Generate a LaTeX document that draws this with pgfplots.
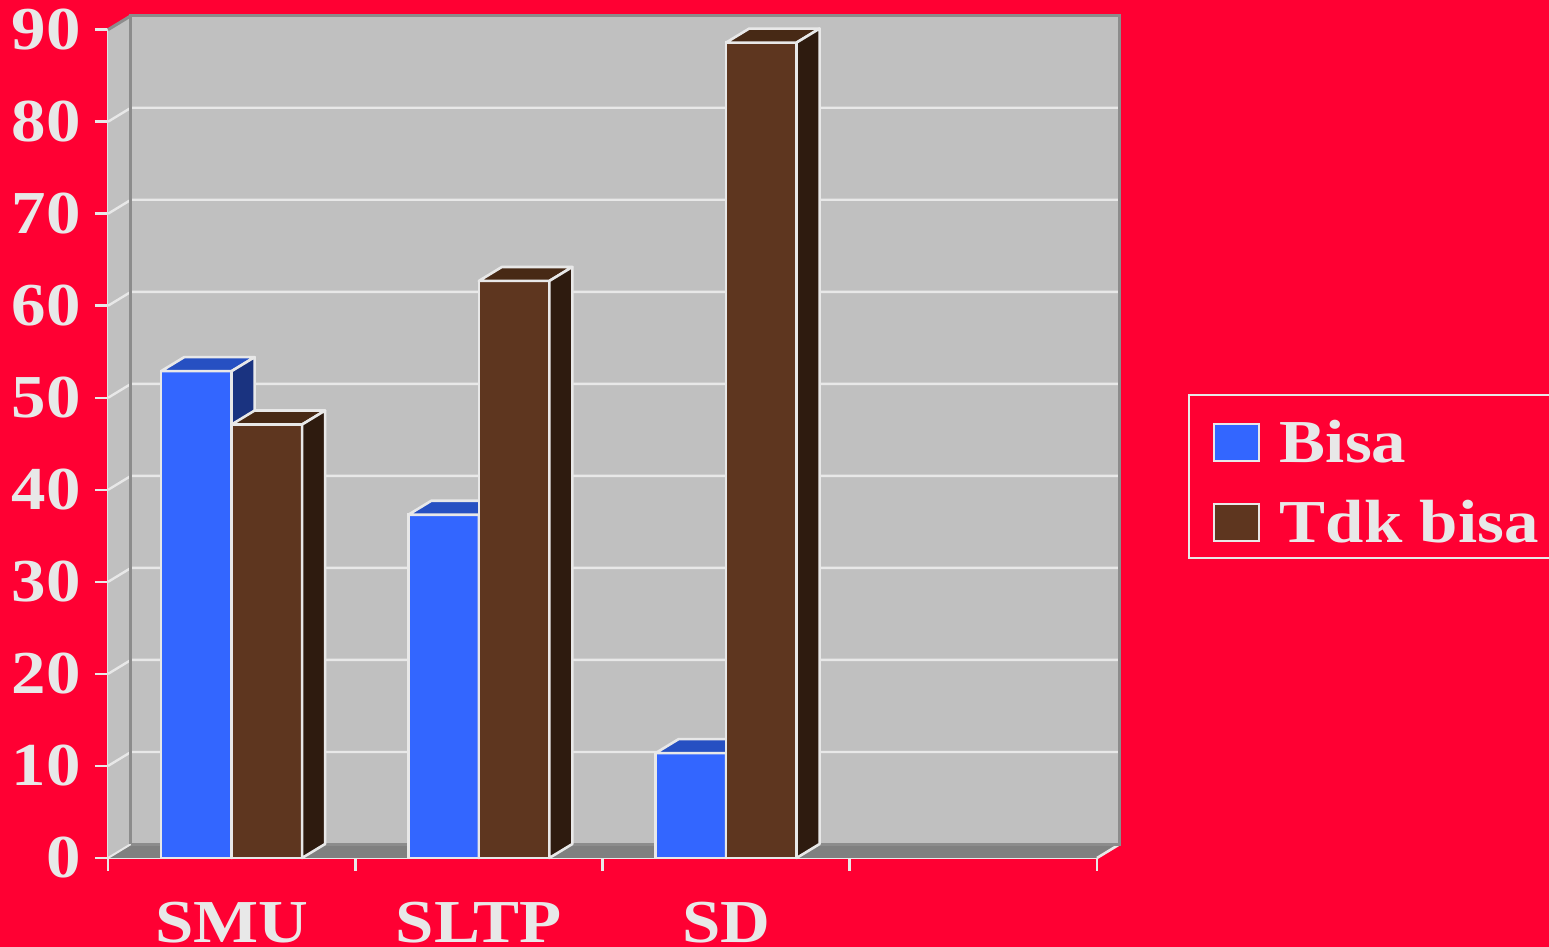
\documentclass[border=0pt]{standalone}
\usepackage{fontspec}
\setmainfont{Liberation Serif}[FakeStretch=1.13]
\usepackage{pgfplots}
\usepackage{pgfplotstable}
\pgfplotsset{compat=1.18}

\definecolor{redbg}{HTML}{FF0033}
\definecolor{wall}{HTML}{C0C0C0}
\definecolor{wallline}{HTML}{8C8C8C}
\definecolor{floorc}{HTML}{808080}
\definecolor{edge}{HTML}{E8E8E8}
\definecolor{bisafront}{HTML}{3366FF}
\definecolor{bisatop}{HTML}{2650C2}
\definecolor{bisaside}{HTML}{1A3380}
\definecolor{tdkfront}{HTML}{5E361F}
\definecolor{tdktop}{HTML}{472915}
\definecolor{tdkside}{HTML}{2E1B0F}

\newcommand\chartfont{\bfseries\fontsize{30.5}{36}\selectfont}

% percentages per school level
\pgfplotstableread{
x   bisa tdk
0.5 52.9 47.1
1.5 37.3 62.7
2.5 11.4 88.6
}\datatable

% depth of the 3D boxes in axis units, and bar width
\newcommand\depthx{0.093}
\newcommand\depthy{1.52}
\newcommand\barw{0.285}

% top and side face of one box: left x, right x, value, top colour, side colour
\newcommand\barfaces[5]{%
  \pgfmathsetmacro\xlb{#1+\depthx}%
  \pgfmathsetmacro\xrb{#2+\depthx}%
  \pgfmathsetmacro\vtop{#3+\depthy}%
  \edef\faces{%
    \noexpand\addplot[forget plot, fill=#4, draw=edge, line width=1.3pt, line join=round]
      coordinates {(#1,#3) (#2,#3) (\xrb,\vtop) (\xlb,\vtop)} -- cycle;
    \noexpand\addplot[forget plot, fill=#5, draw=edge, line width=1.3pt, line join=round]
      coordinates {(#2,0) (#2,#3) (\xrb,\vtop) (\xrb,\depthy)} -- cycle;
  }\faces}

\pgfplotsset{
  sqlegend/.style={legend image code/.code={%
    \draw[##1, draw=edge, line width=1pt] (0pt,-12.5pt) rectangle (22.5pt,6pt);}},
}

\begin{document}
\begin{tikzpicture}
\useasboundingbox (0,0) rectangle (774.5pt,473.5pt);
\clip (0,0) rectangle (774.5pt,473.5pt);
\fill[redbg] (0,0) rectangle (774.5pt,473.5pt);
\begin{axis}[
  at={(54pt,44.5pt)}, anchor=south west,
  scale only axis, width=494.5pt, height=414.15pt,
  xmin=0, xmax=4, ymin=0, ymax=90,
  clip=false,
  axis x line=bottom, axis y line=left,
  axis line style={-, draw=edge, line width=1.3pt},
  tick align=outside,
  ytick={0,10,...,90},
  xtick={0.5,1.5,2.5}, xticklabels={SMU,SLTP,SD},
  minor xtick={0,1,2,3,4},
  major tick length=6.5pt, minor tick length=6.5pt,
  tick style={draw=edge, line width=1.3pt},
  every major x tick/.append style={draw=none},
  /pgf/number format/assume math mode=true,
  yticklabel style={font=\chartfont, text=edge, anchor=east, inner sep=0pt, xshift=-7pt},
  xticklabel style={font=\chartfont, text=edge, anchor=base, inner sep=0pt, yshift=-36pt},
  legend style={at={(rel axis cs:1.092,0.5602)}, anchor=north west,
    draw=edge, line width=1pt, fill=none, text=edge, font=\chartfont,
    inner xsep=12pt, inner ysep=5pt, row sep=8.5pt,
    nodes={inner sep=0pt, text height=29pt, text depth=2.5pt},
    /tikz/every odd column/.append style={column sep=10pt}},
  legend cell align=left,
]
% walls and floor
\addplot[forget plot, fill=wall, draw=none] coordinates {(0,0) (0.093,1.52) (0.093,91.52) (0,90)} -- cycle;
\addplot[forget plot, fill=wall, draw=none] coordinates {(0.093,1.52) (4.093,1.52) (4.093,91.52) (0.093,91.52)} -- cycle;
\addplot[forget plot, fill=floorc, draw=none] coordinates {(0,0) (4,0) (4.093,1.52) (0.093,1.52)} -- cycle;
% grid lines on the side and back walls
\pgfplotsforeachungrouped \g in {10,20,...,80}{%
  \pgfmathsetmacro\gy{\g+\depthy}%
  \edef\gridline{\noexpand\addplot[forget plot, draw=edge, line width=1.2pt]
    coordinates {(0,\g) (\depthx,\gy) (4.093,\gy)};}\gridline}
\addplot[forget plot, draw=edge, line width=1pt] coordinates {(0,0) (0.093,1.52)};
\addplot[forget plot, draw=edge, line width=1.3pt] coordinates {(4,0) (4.093,1.52)};
% wall borders
\addplot[forget plot, draw=wallline, line width=1.5pt] coordinates {(0.093,1.52) (0.093,91.52) (4.093,91.52) (4.093,1.52) (0.093,1.52)};
\addplot[forget plot, draw=wallline, line width=1.5pt] coordinates {(0,90) (0.093,91.52)};

% Bisa
\addplot[ybar, bar width=\barw, bar shift=-0.1425, fill=bisafront, draw=edge, line width=1.3pt, sqlegend]
  table[x=x, y=bisa] {\datatable};
\addlegendentry{Bisa}
\pgfplotsforeachungrouped \r in {0,1,2}{%
  \pgfplotstablegetelem{\r}{x}\of\datatable \let\cx\pgfplotsretval
  \pgfplotstablegetelem{\r}{bisa}\of\datatable \let\cv\pgfplotsretval
  \pgfmathsetmacro\xl{\cx-\barw}%
  \barfaces{\xl}{\cx}{\cv}{bisatop}{bisaside}}

% Tdk bisa
\addplot[ybar, bar width=\barw, bar shift=0.1425, fill=tdkfront, draw=edge, line width=1.3pt, sqlegend]
  table[x=x, y=tdk] {\datatable};
\addlegendentry{Tdk bisa}
\pgfplotsforeachungrouped \r in {0,1,2}{%
  \pgfplotstablegetelem{\r}{x}\of\datatable \let\cx\pgfplotsretval
  \pgfplotstablegetelem{\r}{tdk}\of\datatable \let\cv\pgfplotsretval
  \pgfmathsetmacro\xr{\cx+\barw}%
  \barfaces{\cx}{\xr}{\cv}{tdktop}{tdkside}}
\end{axis}
\end{tikzpicture}
\end{document}
